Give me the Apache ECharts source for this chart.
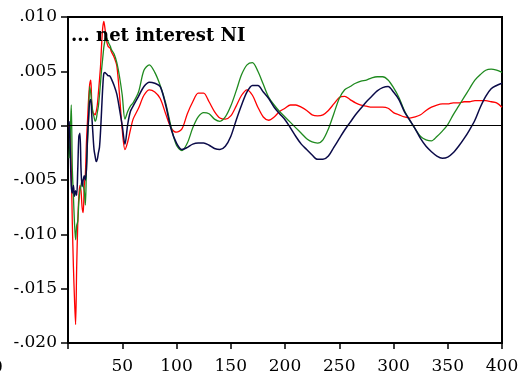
<!DOCTYPE html>
<html>
<head>
<meta charset="utf-8">
<script src="https://cdn.jsdelivr.net/npm/echarts@6/dist/echarts.min.js"></script>
<style>
  html, body { margin: 0; padding: 0; background: #fff; }
  #chart { width: 525px; height: 379px; }
</style>
</head>
<body>
<div id="chart"></div>
<script>
// x positions (periods), dense at the start where the series are noisy
const periods = [
  1, 2, 3, 4, 5, 6, 7, 8, 9, 10, 11, 12, 13, 14, 15, 16, 17, 18, 19, 20,
  21, 22, 23, 24, 25, 26, 27, 28, 29, 30, 31, 32, 33, 34, 35, 36, 37, 38, 39, 40,
  42.5, 45, 47.5, 50, 52.5, 55, 57.5, 60,
  65, 70, 75, 80, 85, 90, 95, 100,
  105, 110, 115, 120, 125, 130, 135, 140, 145, 150,
  155, 160, 165, 170, 175, 180, 185, 190, 195, 200,
  205, 210, 215, 220, 225, 230, 235, 240, 245, 250,
  255, 260, 265, 270, 275, 280, 285, 290, 295, 300,
  305, 310, 315, 320, 325, 330, 335, 340, 345, 350,
  355, 360, 365, 370, 375, 380, 385, 390, 395, 400
];

const redValues = [
  0.0000, -0.0005, -0.004, -0.009, -0.013, -0.016, -0.0183, -0.013, -0.009, -0.0065,
  -0.0055, -0.006, -0.0075, -0.008, -0.0055, -0.0045, -0.0015, 0.0005, 0.0025, 0.0038,
  0.0042, 0.0018, 0.0012, 0.0011, 0.0010, 0.0013, 0.0019, 0.0030, 0.0042, 0.0055,
  0.0075, 0.0090, 0.0096, 0.0090, 0.0082, 0.0076, 0.0073, 0.0072, 0.0071, 0.0068,
  0.0063, 0.0055, 0.0028, -0.0004, -0.0022, -0.0015, -0.0004, 0.0006,
  0.0016, 0.0028, 0.0033, 0.0031, 0.0025, 0.0011, -0.0002, -0.0006,
  -0.0003, 0.0011, 0.0022, 0.0030, 0.0030, 0.0022, 0.0013, 0.0007, 0.0006, 0.0009,
  0.0018, 0.0028, 0.0033, 0.0028, 0.0017, 0.0008, 0.0005, 0.0008, 0.0013, 0.0016,
  0.0019, 0.0019, 0.0017, 0.0014, 0.0010, 0.0009, 0.0010, 0.0014, 0.0020, 0.0026,
  0.0027, 0.0024, 0.0021, 0.0019, 0.0018, 0.0017, 0.0017, 0.0017, 0.0016, 0.0012,
  0.0010, 0.0008, 0.0007, 0.0008, 0.0010, 0.0014, 0.0017, 0.0019, 0.0020, 0.0020,
  0.0021, 0.0021, 0.0022, 0.0022, 0.0023, 0.0023, 0.0023, 0.0022, 0.0021, 0.0017
];

const greenValues = [
  -0.003, -0.001, 0.0019, -0.004, -0.0065, -0.009, -0.0105, -0.0092, -0.0088, -0.007,
  -0.006, -0.0055, -0.005, -0.0055, -0.006, -0.0073, -0.004, -0.0015, 0.0006, 0.0036,
  0.0030, 0.0020, 0.0012, 0.0008, 0.0004, 0.0006, 0.0012, 0.0018, 0.0028, 0.0040,
  0.0052, 0.0062, 0.0072, 0.0078, 0.0082, 0.0080, 0.0077, 0.0075, 0.0073, 0.0070,
  0.0066, 0.0058, 0.0045, 0.0028, 0.0006, 0.0013, 0.0018, 0.0021,
  0.0031, 0.0051, 0.0056, 0.0049, 0.0037, 0.0021, -0.0001, -0.0018,
  -0.0023, -0.0016, -0.0002, 0.0008, 0.0012, 0.0011, 0.0006, 0.0004, 0.0008, 0.0018,
  0.0032, 0.0047, 0.0056, 0.0058, 0.0050, 0.0038, 0.0026, 0.0019, 0.0013, 0.0008,
  0.0003, -0.0002, -0.0007, -0.0012, -0.0015, -0.0016, -0.0013, -0.0003, 0.0011, 0.0025,
  0.0033, 0.0036, 0.0039, 0.0041, 0.0042, 0.0044, 0.0045, 0.0045, 0.0042, 0.0035,
  0.0026, 0.0014, 0.0005, -0.0003, -0.0010, -0.0013, -0.0014, -0.0010, -0.0005, 0.0001,
  0.0010, 0.0018, 0.0026, 0.0034, 0.0042, 0.0047, 0.0051, 0.0052, 0.0051, 0.0049
];

const navyValues = [
  0.0004, -0.002, -0.0055, -0.0062, -0.0055, -0.0065, -0.006, -0.0064, -0.004, -0.001,
  -0.0007, -0.004, -0.0056, -0.005, -0.0046, -0.005, -0.004, -0.001, 0.0008, 0.0022,
  0.0024, 0.0008, -0.0008, -0.0022, -0.0028, -0.0033, -0.0031, -0.0025, -0.002, -0.0005,
  0.0015, 0.0035, 0.0048, 0.0049, 0.0048, 0.0047, 0.0046, 0.0046, 0.0045, 0.0043,
  0.0037, 0.0029, 0.0015, 0.0000, -0.0017, 0.0001, 0.0013, 0.0018,
  0.0027, 0.0036, 0.0040, 0.0039, 0.0036, 0.0019, -0.0003, -0.0016,
  -0.0022, -0.0020, -0.0017, -0.0016, -0.0016, -0.0018, -0.0021, -0.0022, -0.0019, -0.0010,
  0.0005, 0.0019, 0.0031, 0.0037, 0.0037, 0.0031, 0.0025, 0.0017, 0.0011, 0.00055,
  -0.0002, -0.0010, -0.0017, -0.0022, -0.0027, -0.0031, -0.0031, -0.0028, -0.0020, -0.0012,
  -0.0004, 0.0003, 0.0010, 0.0016, 0.0022, 0.0027, 0.0032, 0.0035, 0.0036, 0.0031,
  0.0024, 0.0013, 0.0005, -0.0003, -0.0012, -0.0019, -0.0024, -0.0028, -0.0030, -0.0029,
  -0.0025, -0.0019, -0.0012, -0.0004, 0.0005, 0.0017, 0.0027, 0.0034, 0.0037, 0.0039
];

const titleText = '... net interest NI';
const serif = '"DejaVu Serif", "Liberation Serif", serif';

function pairs(values) {
  return periods.map((p, i) => [p, values[i]]);
}

function yLabel(v) {
  if (Math.abs(v) < 1e-9) {
    return '.000';
  }
  const s = Math.abs(v).toFixed(3).replace(/^0/, '');
  return (v < 0 ? '-' : '') + s;
}

const myChart = echarts.init(document.getElementById('chart'), null, { renderer: 'canvas' });

const option = {
  animation: false,
  backgroundColor: '#fff',
  title: {
    text: titleText,
    left: 66,
    top: 22,
    textStyle: {
      fontFamily: serif,
      fontWeight: 'bold',
      fontSize: 18,
      color: '#000',
    },
  },
  grid: {
    left: 68,
    right: 23,
    top: 17,
    bottom: 36,
    show: true,
    borderColor: '#000',
    borderWidth: 2,
    backgroundColor: 'transparent',
  },
  graphic: [{
    type: 'text',
    left: -8,
    top: 359,
    style: {
      text: '0',
      font: '17px ' + serif,
      fill: '#000',
    },
  }],
  xAxis: {
    type: 'value',
    min: 0,
    max: 400,
    interval: 50,
    axisLine: { show: true, onZero: false, lineStyle: { color: '#000', width: 2 } },
    axisTick: { show: true, length: 6, inside: false, lineStyle: { color: '#000', width: 1.5 } },
    splitLine: { show: false },
    axisLabel: {
      margin: 15,
      fontFamily: serif,
      fontSize: 17,
      color: '#000',
      formatter(v) {
        return v === 0 ? '' : String(v);
      },
    },
  },
  yAxis: {
    type: 'value',
    min: -0.02,
    max: 0.01,
    interval: 0.005,
    axisLine: { show: true, onZero: false, lineStyle: { color: '#000', width: 2 } },
    axisTick: { show: true, length: 7, inside: false, lineStyle: { color: '#000', width: 1.5 } },
    splitLine: { show: false },
    axisLabel: {
      margin: 11,
      fontFamily: serif,
      fontSize: 17,
      color: '#000',
      formatter: yLabel,
    },
  },
  series: [
    {
      name: 'red',
      type: 'line',
      data: pairs(redValues),
      showSymbol: false,
      smooth: 0.3,
      lineStyle: { color: '#ff0000', width: 1.3 },
      markLine: {
        silent: true,
        symbol: ['none', 'none'],
        label: { show: false },
        lineStyle: { color: '#000', width: 1, type: 'solid' },
        data: [{ yAxis: 0 }],
      },
    },
    {
      name: 'green',
      type: 'line',
      data: pairs(greenValues),
      showSymbol: false,
      smooth: 0.3,
      lineStyle: { color: '#1f8a1f', width: 1.3 },
    },
    {
      name: 'navy',
      type: 'line',
      data: pairs(navyValues),
      showSymbol: false,
      smooth: 0.3,
      lineStyle: { color: '#0a0a48', width: 1.5 },
    },
  ],
};

myChart.setOption(option, true);
</script>
</body>
</html>
